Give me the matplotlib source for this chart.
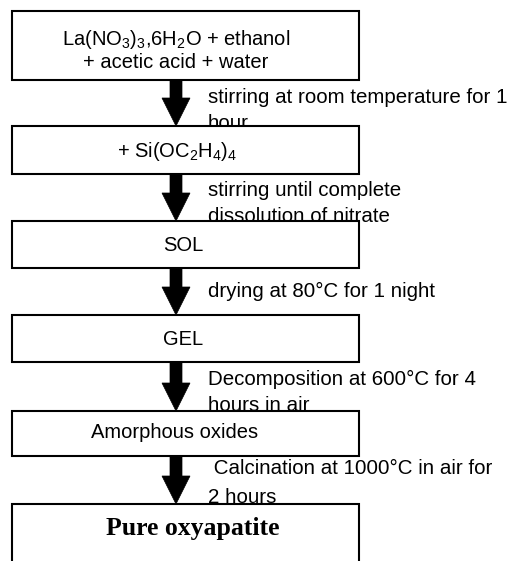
import matplotlib
matplotlib.use("Agg")
import matplotlib.pyplot as plt
from matplotlib.patches import Rectangle, Polygon

plt.rcParams['font.family'] = ['Liberation Sans', 'DejaVu Sans']
plt.rcParams['mathtext.default'] = 'regular'

# ---- content ----
box_labels = [
    ["La(NO$_3$)$_3$,6H$_2$O + ethanol", "+ acetic acid + water"],
    ["+ Si(OC$_2$H$_4$)$_4$"],
    ["SOL"],
    ["GEL"],
    ["Amorphous oxides"],
    ["Pure oxyapatite"],
]
step_labels = [
    ["stirring at room temperature for 1", "hour"],
    ["stirring until complete", "dissolution of nitrate"],
    ["drying at 80°C for 1 night"],
    ["Decomposition at 600°C for 4", "hours in air"],
    [" Calcination at 1000°C in air for", "2 hours"],
]

# ---- layout (pixel coordinates) ----
W, H = 516, 561
box_left, box_right = 12, 359
box_tops = [11, 126, 221, 315, 411, 504]
box_bottoms = [80, 174, 268, 362, 456, 600]
box_text_x = [176, 177, 183, 183, 175, 193]
box_text_y = [[39, 62], [151], [245], [339], [432], [528]]
arrow_x = 176
shaft_half, head_half, head_len = 6, 14, 28
step_text_x = 208
step_text_y = [[97, 123], [190, 216], [291], [379, 405], [468, 497]]

fig = plt.figure(figsize=(W / 100, H / 100), dpi=100)
ax = fig.add_axes([0, 0, 1, 1])
ax.set_xlim(0, W)
ax.set_ylim(H, 0)
ax.axis('off')

lw = 1.5
for i, (top, bot) in enumerate(zip(box_tops, box_bottoms)):
    ax.add_patch(Rectangle((box_left, top), box_right - box_left, bot - top,
                           facecolor='white', edgecolor='black', lw=lw, zorder=3))
    for j, line in enumerate(box_labels[i]):
        if i == len(box_tops) - 1:
            ax.text(box_text_x[i], box_text_y[i][j], line, ha='center', va='center',
                    fontsize=18.5, fontweight='bold', family=['Liberation Serif'], zorder=4)
        else:
            ax.text(box_text_x[i], box_text_y[i][j], line, ha='center', va='center',
                    fontsize=14.5, zorder=4)

for i in range(len(step_labels)):
    y0 = box_bottoms[i]
    y1 = box_tops[i + 1]
    yh = y1 - head_len
    pts = [(arrow_x - shaft_half, y0), (arrow_x + shaft_half, y0),
           (arrow_x + shaft_half, yh), (arrow_x + head_half, yh),
           (arrow_x, y1), (arrow_x - head_half, yh), (arrow_x - shaft_half, yh)]
    ax.add_patch(Polygon(pts, closed=True, facecolor='black', edgecolor='black',
                         lw=0.5, zorder=5))
    for j, line in enumerate(step_labels[i]):
        ax.text(step_text_x, step_text_y[i][j], line, ha='left', va='center',
                fontsize=14.8, zorder=2)

fig.savefig('out.png', dpi=100, facecolor='white')
